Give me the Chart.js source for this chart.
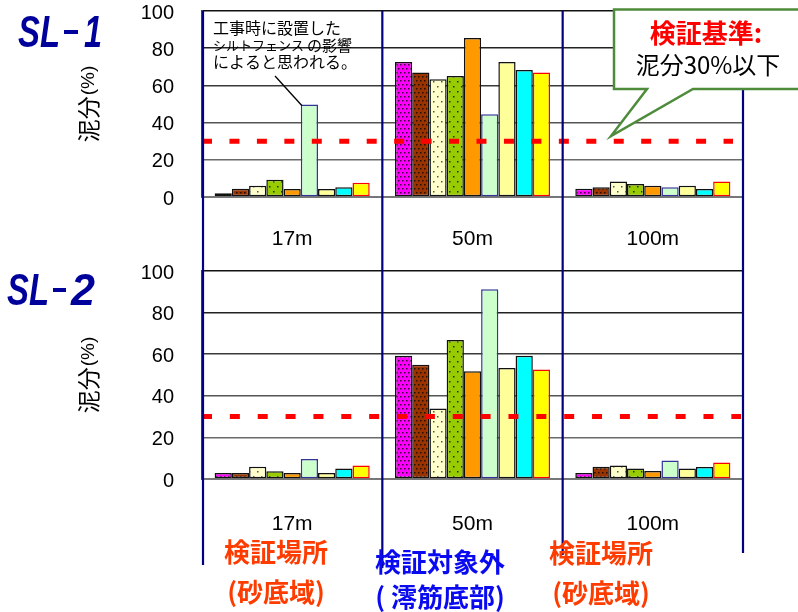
<!DOCTYPE html>
<html>
<head>
<meta charset="utf-8">
<script src="https://cdn.jsdelivr.net/npm/chart.js@4.4.1/dist/chart.umd.min.js"></script>
<style>
  html, body { margin: 0; padding: 0; background: #fff; }
  #wrap { position: relative; width: 798px; height: 612px; overflow: hidden; }
  canvas { position: absolute; left: 0; }
  #c1 { top: 0; }
  #c2 { top: 260px; }
</style>
</head>
<body>
<div id="wrap">
  <canvas id="c1" width="798" height="260"></canvas>
  <canvas id="c2" width="798" height="352"></canvas>
</div>
<script>
// Sampling distances (x categories) and the y-axis ticks (%)
const categories = ['17m', '50m', '100m'];
const yTicks = [0, 20, 40, 60, 80, 100];
const threshold = 30;   // 検証基準: 泥分30%以下

// SL-1: mud content (%) of the nine samples at each distance
const sl1_17m  = [2.0, 4.5, 6.0, 9.3, 4.3, 49.7, 4.3, 5.2, 7.7];
const sl1_50m  = [72.6, 66.9, 63.3, 65.1, 85.5, 44.5, 72.6, 68.3, 66.9];
const sl1_100m = [4.5, 5.2, 8.4, 7.0, 6.1, 5.2, 6.1, 4.3, 8.4];

// SL-2: mud content (%) of the nine samples at each distance
const sl2_17m  = [2.9, 2.9, 5.9, 3.7, 2.9, 9.6, 2.9, 5.1, 6.5];
const sl2_50m  = [59.3, 54.9, 33.9, 66.8, 51.8, 91.2, 53.4, 59.3, 52.7];
const sl2_100m = [2.9, 5.9, 6.5, 5.1, 3.8, 8.9, 5.1, 5.8, 7.9];

// dotted fills for the first four series
function dotPattern(bg, dot, w, h, dots, size) {
  const c = document.createElement('canvas');
  c.width = w; c.height = h;
  const g = c.getContext('2d');
  g.fillStyle = bg; g.fillRect(0, 0, w, h);
  g.fillStyle = dot;
  dots.forEach(([x, y]) => g.fillRect(x, y, size, size));
  return g.createPattern(c, 'repeat');
}

const fills = [
  dotPattern('#FF00FF', '#3a003a', 8, 8, [[0, 0], [4, 0], [2, 4], [6, 4]], 1.5),
  dotPattern('#993300', '#2a0d00', 8, 8, [[0, 0], [4, 0], [2, 4], [6, 4]], 1.5),
  dotPattern('#FFFFCC', '#555544', 8, 10, [[1, 1], [5, 6]], 1.5),
  dotPattern('#99CC00', '#223300', 8, 10, [[1, 1], [5, 6]], 1.5),
  '#FF9900', '#CCFFCC', '#FFFF99', '#00FFFF', '#FFFF00'
];
const borders = ['#111', '#111', '#111', '#111', '#111', '#333399', '#111', '#111', '#FF0000'];

function buildDatasets(rows) {
  return fills.map((f, i) => ({
    label: 'S' + (i + 1),
    data: rows.map(r => r[i]),
    backgroundColor: f,
    borderColor: borders[i],
    borderWidth: 1.5,
    borderSkipped: false,
    categoryPercentage: 0.86,
    barPercentage: 1.0
  }));
}

const gridColor = c => {
  const v = c.tick ? c.tick.value : 0;
  if (v === 0) return 'rgba(0,0,0,0)';
  return { 100: '#111', 80: '#222', 60: '#3a3a3a', 40: '#555', 20: '#6a6a6a' }[v] || '#444';
};

function drawYTitle(ctx, x, y) {
  ctx.save();
  ctx.translate(x, y);
  ctx.rotate(-Math.PI / 2);
  ctx.fillStyle = '#000';
  ctx.textBaseline = 'middle';
  ctx.textAlign = 'left';
  const a = '泥分', b = '(%)';
  ctx.font = '23px "Noto Sans CJK JP"';
  const wa = ctx.measureText(a).width;
  ctx.font = '19px "Liberation Sans"';
  const wb = ctx.measureText(b).width;
  const start = -(wa + wb + 1) / 2;
  ctx.font = '23px "Noto Sans CJK JP"';
  ctx.fillText(a, start, 0);
  ctx.font = '19px "Liberation Sans"';
  ctx.fillText(b, start + wa + 1, 1);
  ctx.restore();
}

function makeChart(canvasId, rows, opts) {
  const decor = {
    id: 'decor',
    afterDatasetsDraw(chart) {
      const { ctx, chartArea } = chart;
      const y = chart.scales.y.getPixelForValue(threshold);
      ctx.save();
      ctx.strokeStyle = '#FF0000';
      ctx.lineWidth = 5;
      ctx.lineCap = 'butt';
      ctx.setLineDash(opts.dash);
      ctx.beginPath();
      ctx.moveTo(chartArea.left, y);
      ctx.lineTo(chartArea.right - opts.dashInset, y);
      ctx.stroke();
      ctx.restore();
    },
    afterDraw(chart) {
      const { ctx, chartArea } = chart;
      const xs = chart.scales.x;
      const edges = [chartArea.left];
      for (let i = 0; i < categories.length - 1; i++) {
        edges.push((xs.getPixelForValue(i) + xs.getPixelForValue(i + 1)) / 2);
      }
      edges.push(chartArea.right);
      ctx.save();
      ctx.strokeStyle = '#000080';
      ctx.lineWidth = 2.2;
      edges.forEach((x, i) => {
        const xx = i === 0 ? x + 1 : x;
        ctx.beginPath();
        ctx.moveTo(xx, opts.divTop(chartArea));
        ctx.lineTo(xx, opts.divBottom[i]);
        ctx.stroke();
      });
      ctx.restore();
      drawYTitle(ctx, 88, (chartArea.top + chartArea.bottom) / 2);
      opts.extra(ctx, chart);
    }
  };

  return new Chart(document.getElementById(canvasId), {
    type: 'bar',
    data: { labels: categories, datasets: buildDatasets(rows) },
    options: {
      responsive: false,
      animation: false,
      devicePixelRatio: 1,
      layout: { padding: { top: opts.padTop, right: 55, left: 0, bottom: 0 } },
      plugins: { legend: { display: false }, tooltip: { enabled: false } },
      scales: {
        x: {
          grid: { display: false },
          border: { display: true, color: '#777', width: 2 },
          ticks: {
            color: '#000',
            padding: opts.xPad,
            font: { family: 'Liberation Sans', size: 21 }
          },
          afterFit(s) { s.height = opts.xHeight; s.paddingLeft = 0; s.paddingRight = 0; }
        },
        y: {
          min: 0, max: 100,
          afterBuildTicks(s) { s.ticks = yTicks.map(v => ({ value: v })); },
          grid: { color: gridColor, lineWidth: 1.5, drawTicks: false },
          border: { display: true, color: '#444', width: 2 },
          ticks: {
            color: '#000',
            padding: 28,
            labelOffset: 2,
            font: { family: 'Liberation Sans', size: 20 }
          },
          afterFit(s) { s.width = 202; s.paddingTop = 0; s.paddingBottom = 0; }
        }
      }
    },
    plugins: [decor]
  });
}

// series heading such as "SL - 1": letters, a short dash, then the number
function seriesTitle(ctx, num, x, baseline, parts) {
  ctx.save();
  ctx.fillStyle = '#00009A';
  ctx.font = 'italic bold 44px "Liberation Sans"';
  ctx.textAlign = 'left';
  ctx.textBaseline = 'alphabetic';
  ctx.fillText('SL', x, baseline, parts.slW);
  ctx.fillRect(x + parts.dashX, baseline - 17, parts.dashW, 4);
  ctx.fillText(num, x + parts.numX, baseline, parts.numW);
  ctx.restore();
}

// SL-1
makeChart('c1', [sl1_17m, sl1_50m, sl1_100m], {
  padTop: 11, xHeight: 63, xPad: 22,
  dash: [10, 17.45], dashInset: 10,
  divTop: a => a.top,
  divBottom: [260, 260, 260, 260],
  extra(ctx, chart) {
    seriesTitle(ctx, '1', 18, 47, { slW: 42, dashX: 46, dashW: 14, numX: 66, numW: 18 });

    // note on the 17m sample affected by the silt fence
    ctx.save();
    ctx.fillStyle = '#000';
    ctx.textBaseline = 'middle';
    ctx.textAlign = 'left';
    ctx.font = '16px "Noto Sans CJK JP"';
    ctx.fillText('工事時に設置した', 213, 28);
    ctx.font = '13px "Noto Sans CJK JP"';
    ctx.fillText('シルトフェンス', 213, 45);
    const kw = ctx.measureText('シルトフェンス').width;
    ctx.font = '15px "Noto Sans CJK JP"';
    ctx.fillText('の影響', 213 + kw + 3, 45);
    ctx.font = '16px "Noto Sans CJK JP"';
    ctx.fillText('によると思われる。', 213, 62);
    const bar = chart.getDatasetMeta(5).data[0];
    ctx.strokeStyle = '#000';
    ctx.lineWidth = 1.3;
    ctx.beginPath();
    ctx.moveTo(275, 76);
    ctx.lineTo(bar.x - bar.width / 2 + 1, bar.y + 1);
    ctx.stroke();
    ctx.restore();

    // criterion callout
    ctx.save();
    ctx.beginPath();
    ctx.moveTo(614, 9.5);
    ctx.lineTo(801, 9.5);
    ctx.lineTo(801, 89);
    ctx.lineTo(693, 89);
    ctx.lineTo(611, 136);
    ctx.lineTo(647, 89);
    ctx.lineTo(614, 89);
    ctx.closePath();
    ctx.fillStyle = '#fff';
    ctx.fill();
    ctx.lineWidth = 2.5;
    ctx.strokeStyle = '#4E8B3A';
    ctx.stroke();
    ctx.textAlign = 'center';
    ctx.textBaseline = 'middle';
    ctx.fillStyle = '#FF0000';
    ctx.font = 'bold 26px "Noto Sans CJK JP"';
    ctx.fillText('検証基準:', 706, 33);
    ctx.fillStyle = '#000';
    ctx.font = '24px "Noto Sans CJK JP"';
    ctx.fillText('泥分30%以下', 708, 65);
    ctx.restore();
  }
});

// SL-2
makeChart('c2', [sl2_17m, sl2_50m, sl2_100m], {
  padTop: 11, xHeight: 133, xPad: 25,
  dash: [10, 17.86], dashInset: 2,
  divTop: () => 0,
  divBottom: [305, 308, 295, 293],
  extra(ctx) {
    seriesTitle(ctx, '2', 7, 45, { slW: 42, dashX: 46, dashW: 13, numX: 64, numW: 24 });

    ctx.save();
    ctx.textAlign = 'center';
    ctx.textBaseline = 'middle';
    ctx.font = 'bold 26px "Noto Sans CJK JP"';
    ctx.fillStyle = '#FF3C00';
    ctx.fillText('検証場所', 276, 292);
    ctx.fillText('(砂底域)', 276, 332);
    ctx.fillText('検証場所', 601, 293);
    ctx.fillText('(砂底域)', 601, 333);
    ctx.fillStyle = '#0A0AF0';
    ctx.fillText('検証対象外', 440, 302);
    ctx.fillText('( 澪筋底部)', 440, 337);
    ctx.restore();
  }
});
</script>
</body>
</html>
